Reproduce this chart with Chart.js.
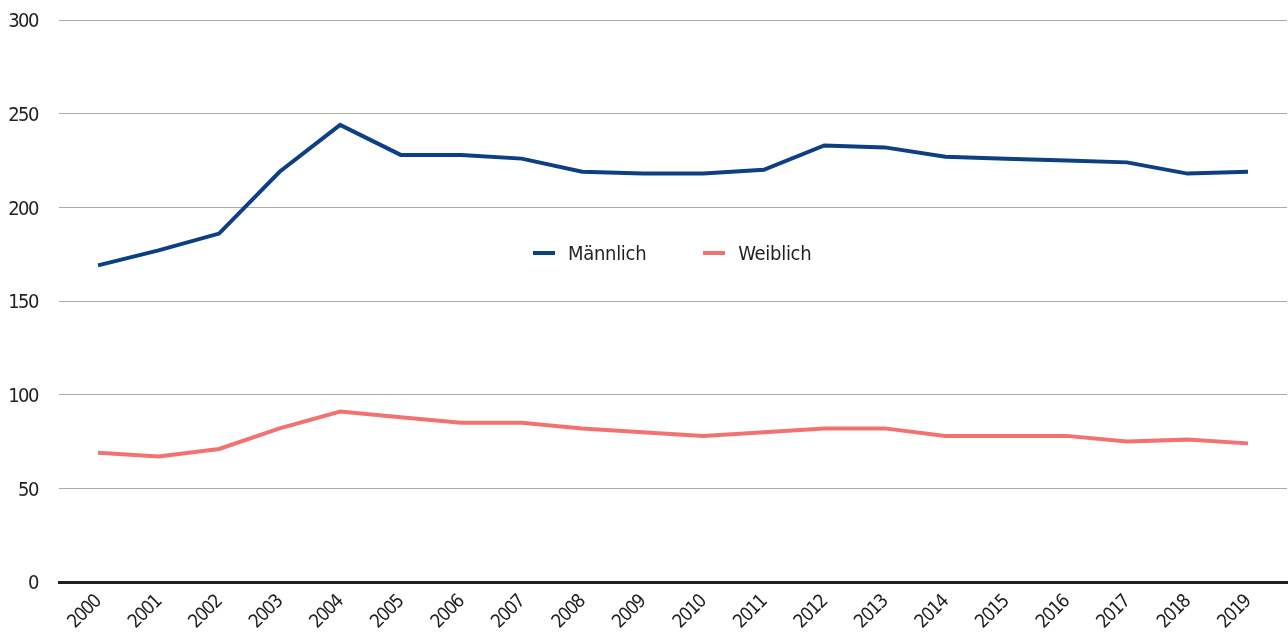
<!DOCTYPE html>
<html>
<head>
  <meta charset="utf-8">
  <title>Männlich / Weiblich 2000–2019</title>
  <script src="https://cdn.jsdelivr.net/npm/chart.js"></script>
  <style>
    html, body {
      margin: 0;
      padding: 0;
      background: #fff;
    }
    .wrap {
      position: relative;
      width: 1288px;
      height: 632px;
    }
    #legend {
      position: absolute;
      top: 241px;
      left: 533px;
      display: flex;
      font-family: 'DejaVu Sans', sans-serif;
      font-stretch: condensed;
      font-size: 20px;
      letter-spacing: -0.3px;
      color: #231f20;
    }
    #legend .item {
      display: flex;
      align-items: center;
      margin-right: 57px;
    }
    #legend .swatch {
      width: 22px;
      height: 4px;
      margin-right: 13px;
    }
  </style>
</head>
<body>
  <div class="wrap">
    <canvas id="myChart" width="1288" height="632"></canvas>
    <div id="legend"></div>
  </div>

  <script>
    // Data
    const years = ['2000', '2001', '2002', '2003', '2004', '2005', '2006', '2007', '2008', '2009',
                   '2010', '2011', '2012', '2013', '2014', '2015', '2016', '2017', '2018', '2019'];
    const maennlich = [169, 177, 186, 219, 244, 228, 228, 226, 219, 218,
                       218, 220, 233, 232, 227, 226, 225, 224, 218, 219];
    const weiblich = [69, 67, 71, 82, 91, 88, 85, 85, 82, 80,
                      78, 80, 82, 82, 78, 78, 78, 75, 76, 74];
    const yTicks = [0, 50, 100, 150, 200, 250, 300];

    // condensed face if the system has one (put in the weight slot of the font string)
    const fontFamily = "'DejaVu Sans', sans-serif";
    const fontStretch = 'condensed';
    const textColor = '#231f20';

    const toPoints = (values) => values.map((v, i) => ({ x: Number(years[i]), y: v }));

    // tighter letters on the canvas, the original font is narrower
    const tightText = {
      id: 'tightText',
      beforeUpdate: (chart) => { chart.ctx.letterSpacing = '-1.5px'; },
      beforeDraw: (chart) => { chart.ctx.letterSpacing = '-1.5px'; }
    };

    const ctx = document.getElementById('myChart').getContext('2d');
    const myChart = new Chart(ctx, {
      type: 'line',
      plugins: [tightText],
      data: {
        datasets: [
          {
            label: 'Männlich',
            data: toPoints(maennlich),
            borderColor: '#0c3f83',
            backgroundColor: '#0c3f83',
            borderWidth: 4,
            pointRadius: 0,
            tension: 0
          },
          {
            label: 'Weiblich',
            data: toPoints(weiblich),
            borderColor: '#f27272',
            backgroundColor: '#f27272',
            borderWidth: 4,
            pointRadius: 0,
            tension: 0
          }
        ]
      },
      options: {
        responsive: false,
        animation: false,
        layout: {
          padding: { top: 20, right: 1, left: 0, bottom: 0 }
        },
        plugins: {
          legend: { display: false },
          tooltip: { enabled: false }
        },
        scales: {
          x: {
            type: 'linear',
            min: 1999.355,
            max: 2019.645,
            afterBuildTicks: (scale) => {
              scale.ticks = years.map((y) => ({ value: Number(y) }));
            },
            afterFit: (scale) => { scale.height = 50; },
            grid: { display: false, drawTicks: false },
            border: { display: true, color: '#231f20', width: 3 },
            ticks: {
              autoSkip: false,
              maxRotation: 45,
              minRotation: 45,
              padding: 9,
              color: textColor,
              font: { family: fontFamily, size: 19, weight: fontStretch },
              callback: (value) => String(value)
            }
          },
          y: {
            min: 0,
            max: 300,
            afterBuildTicks: (scale) => {
              scale.ticks = yTicks.map((v) => ({ value: v }));
            },
            afterFit: (scale) => {
              scale.width = 59;
              scale.paddingTop = 0;
              scale.paddingBottom = 0;
            },
            grid: {
              color: (c) => (c.tick.value === 0 ? 'rgba(0,0,0,0)' : '#aaaaaa'),
              lineWidth: 1,
              drawTicks: false
            },
            border: { display: false },
            ticks: {
              padding: 21,
              labelOffset: 2,
              color: textColor,
              font: { family: fontFamily, size: 20, weight: fontStretch }
            }
          }
        }
      }
    });

    // Legend placed inside the plot, built from the datasets
    const legendEl = document.getElementById('legend');
    myChart.data.datasets.forEach((ds) => {
      const item = document.createElement('div');
      item.className = 'item';
      const sw = document.createElement('span');
      sw.className = 'swatch';
      sw.style.background = ds.borderColor;
      const txt = document.createElement('span');
      txt.textContent = ds.label;
      item.appendChild(sw);
      item.appendChild(txt);
      legendEl.appendChild(item);
    });
  </script>
</body>
</html>
